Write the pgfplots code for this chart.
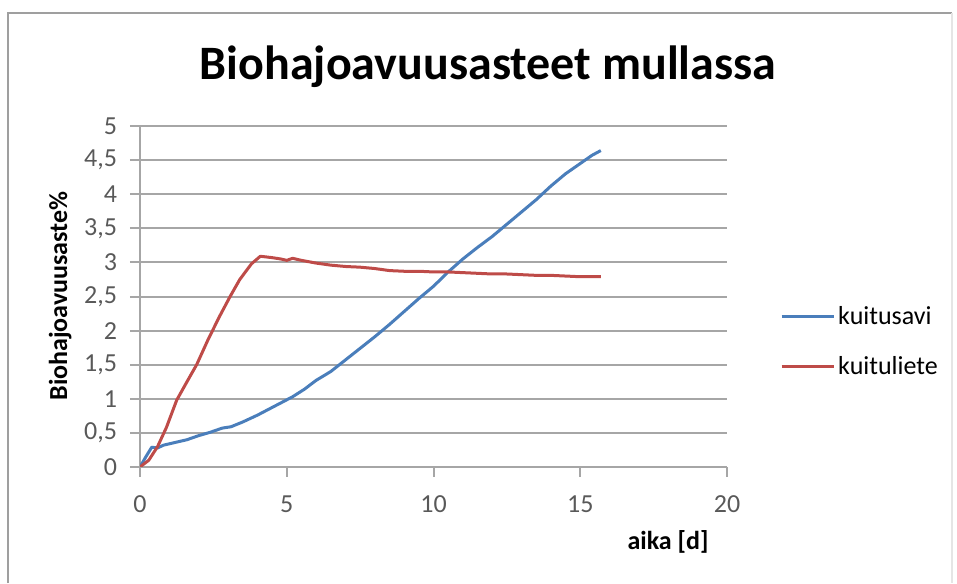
\documentclass[border=0pt]{standalone}
\usepackage{pgfplots}
\pgfplotsset{compat=1.18}
\usepackage{fontspec}
\setmainfont{Carlito}
\definecolor{savi}{HTML}{4A7EBB}
\definecolor{liete}{HTML}{BE4B48}
\definecolor{gridgray}{HTML}{A6A6A6}
\definecolor{ticktext}{HTML}{595959}

\begin{document}
\begin{tikzpicture}[x=0.5pt,y=0.5pt]
  \path[use as bounding box] (0,0) rectangle (957,583);
  % chart frame
  \draw[gray!75, line width=1.2pt] (8,0) -- (8,570) -- (952,570);
  \draw[gray!20, line width=1pt] (952,570) -- (952,0);

  \node[font=\bfseries\fontsize{24}{28}\selectfont, anchor=base] at (488,503) {Biohajoavuusasteet mullassa};
  \node[font=\bfseries\fontsize{13}{15}\selectfont, rotate=90, anchor=base] at (67,287) {Biohajoavuusaste\%};
  \node[font=\bfseries\fontsize{13}{15}\selectfont, anchor=base] at (668,33) {aika [d]};

  \begin{axis}[
    at={(70pt,58pt)}, anchor=south west,
    scale only axis,
    width=293.5pt, height=170.5pt,
    xmin=0, xmax=20, ymin=0, ymax=5,
    xtick={0,5,...,20},
    ytick={0,0.5,...,5},
    axis lines*=left,
    axis line style={gridgray, line width=1pt},
    ymajorgrids,
    grid style={gridgray, line width=1pt},
    tick align=outside,
    major tick length=5pt,
    tick style={gridgray, line width=1pt},
    /pgf/number format/use comma,
    /pgf/number format/assume math mode=true,
    ticklabel style={font=\fontsize{13}{15}\selectfont, text=ticktext},
    xticklabel style={yshift=-6pt},
    yticklabel style={xshift=-3pt},
    legend style={at={(1.09,0.367)}, anchor=west, draw=none, fill=none,
      font=\fontsize{13}{15}\selectfont, row sep=11.5pt, inner sep=0pt,
      nodes={inner sep=1.5pt}},
    legend cell align=left,
    legend image code/.code={\draw[#1] (0pt,0pt) -- (26pt,0pt);},
  ]
  % kuitusavi
  \addplot[savi, line width=1.5pt, line join=round] coordinates {
    (0,0) (0.2,0.15) (0.4,0.29) (0.6,0.28) (0.8,0.32) (1.2,0.36) (1.6,0.40)
    (2.0,0.46) (2.4,0.51) (2.8,0.57) (3.1,0.59) (3.5,0.66) (4.0,0.76)
    (4.4,0.85) (4.8,0.94) (5.2,1.03) (5.6,1.14) (6.0,1.27) (6.5,1.40)
    (7.0,1.57) (7.5,1.74) (8.0,1.91) (8.5,2.09) (9.0,2.28) (9.5,2.47)
    (10.0,2.65) (10.5,2.86) (11.0,3.05) (11.5,3.22) (12.0,3.38) (12.5,3.56)
    (13.0,3.74) (13.5,3.92) (14.0,4.12) (14.5,4.30) (15.0,4.45) (15.4,4.57)
    (15.7,4.64)
  };
  \addlegendentry{kuitusavi}
  % kuituliete
  \addplot[liete, line width=1.5pt, line join=round] coordinates {
    (0,0) (0.3,0.10) (0.6,0.30) (0.9,0.58) (1.25,0.98) (1.6,1.25) (1.93,1.50)
    (2.3,1.85) (2.7,2.20) (3.07,2.50) (3.4,2.75) (3.8,2.98) (4.1,3.09)
    (4.5,3.07) (4.8,3.05) (5.0,3.03) (5.2,3.06) (5.5,3.03) (6.0,2.99)
    (6.5,2.96) (7.0,2.94) (7.5,2.93) (8.0,2.91) (8.5,2.88) (9.0,2.87)
    (9.5,2.87) (10.0,2.86) (10.5,2.86) (11.0,2.85) (11.5,2.84) (12.0,2.83)
    (12.5,2.83) (13.0,2.82) (13.5,2.81) (14.0,2.81) (14.5,2.80) (15.0,2.79)
    (15.7,2.79)
  };
  \addlegendentry{kuituliete}
  \end{axis}
\end{tikzpicture}
\end{document}
